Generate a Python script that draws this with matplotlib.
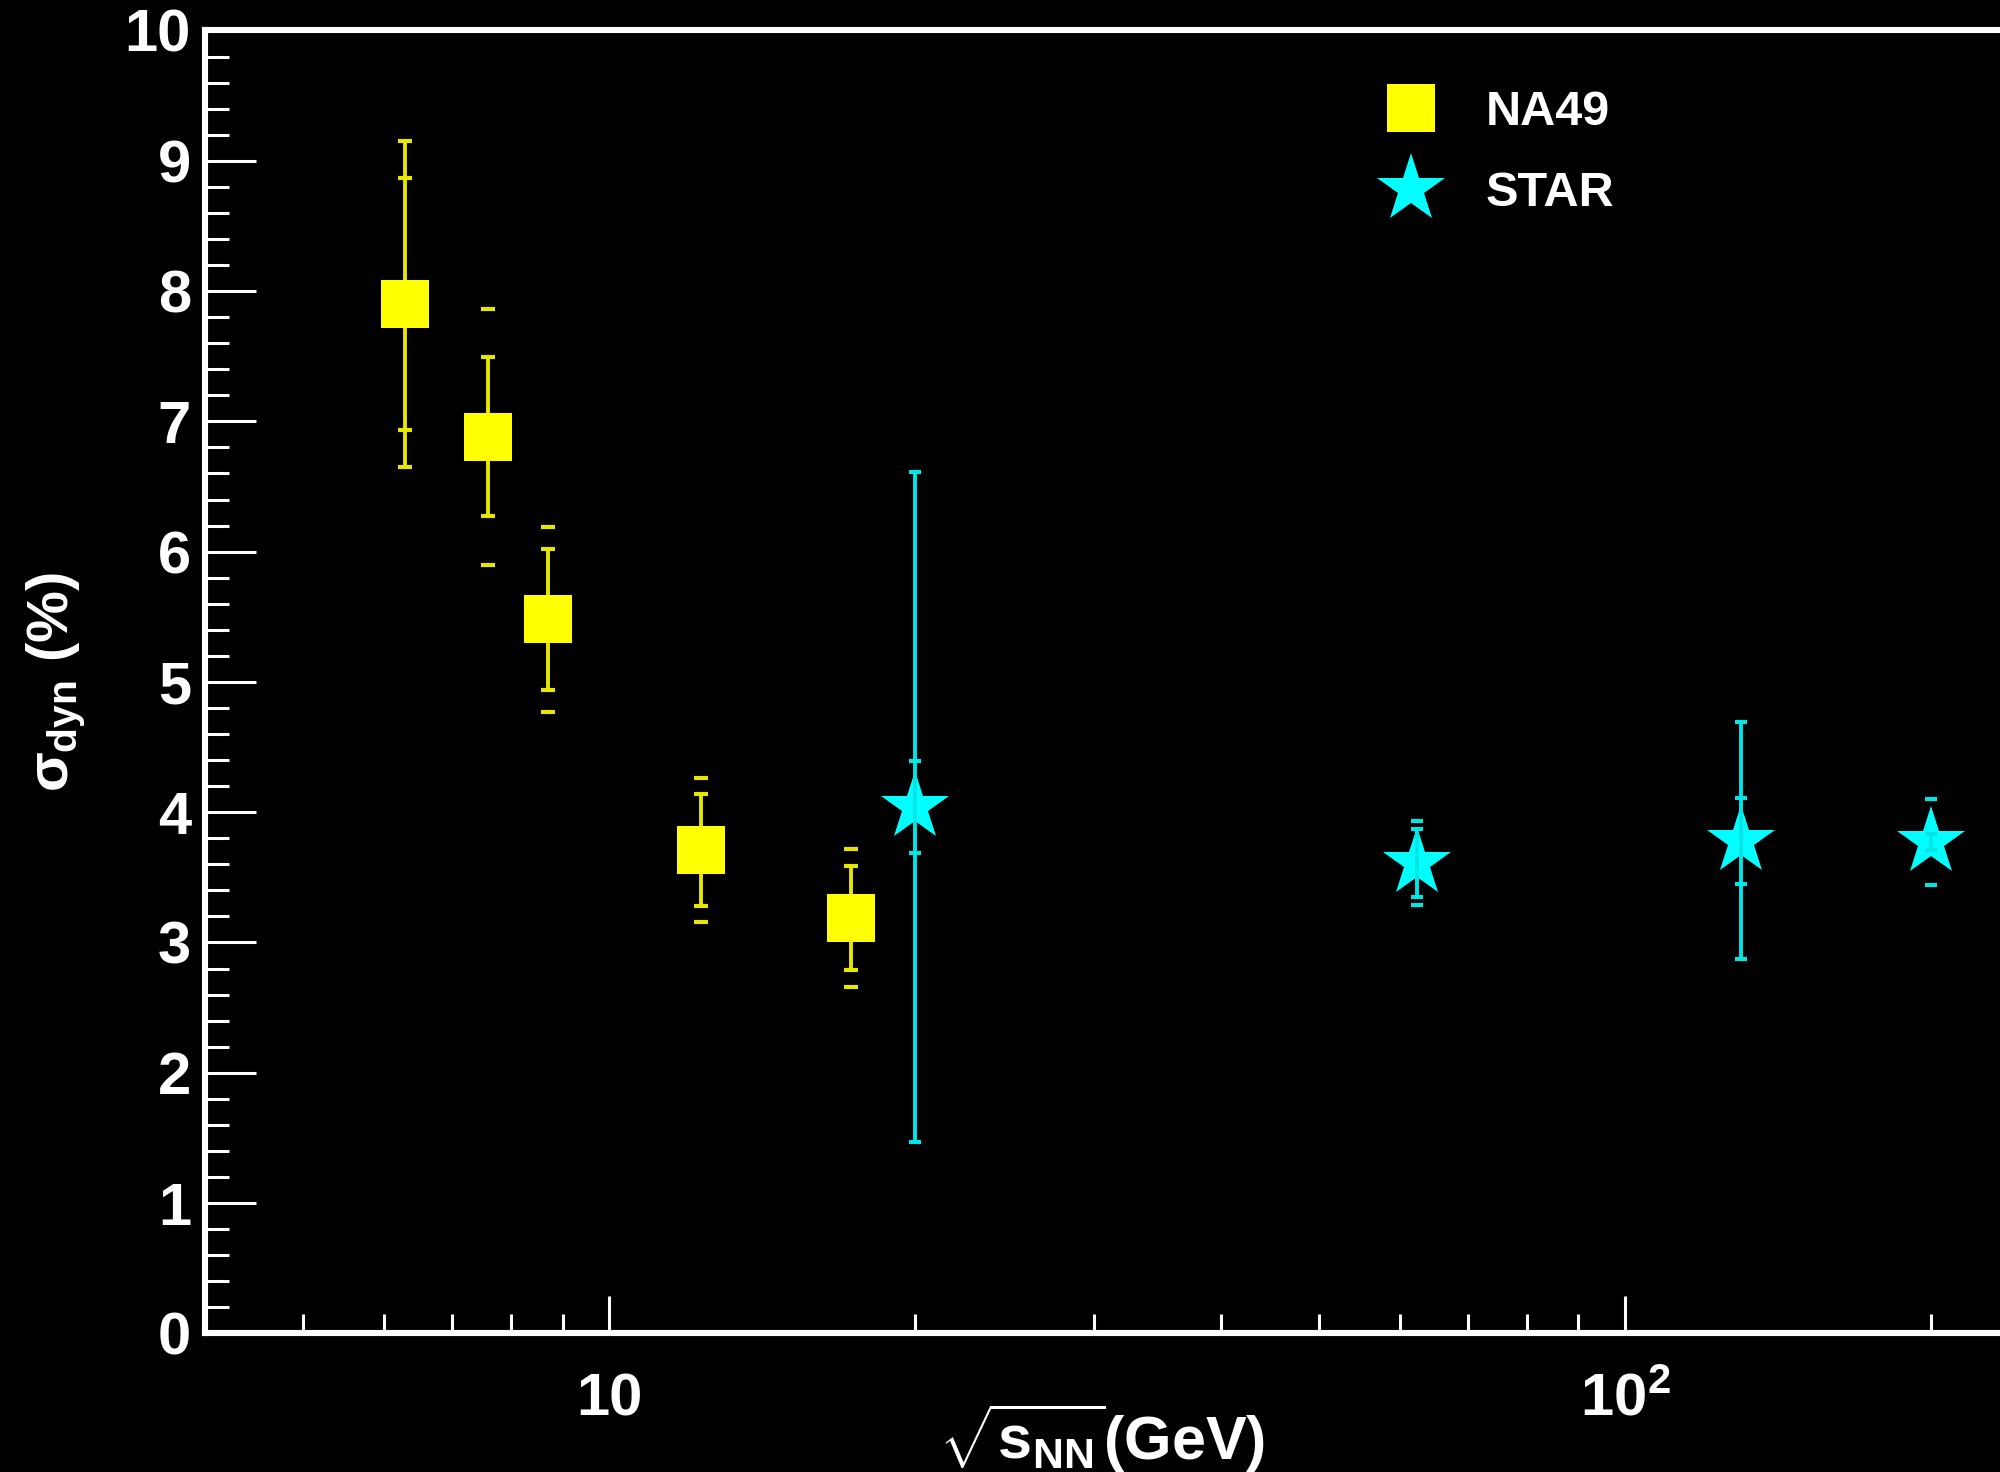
import numpy as np
import matplotlib
matplotlib.use('Agg')
import matplotlib.pyplot as plt
from matplotlib.lines import Line2D
from matplotlib.ticker import FixedLocator, LogLocator, MultipleLocator, NullFormatter

# NA49 points
na49_energy = [6.3, 7.6, 8.7, 12.3, 17.3]
na49_sigma = [7.90, 6.88, 5.48, 3.71, 3.19]
na49_stat = [1.25, 0.61, 0.54, 0.43, 0.40]
na49_sys = [0.97, 0.98, 0.71, 0.55, 0.53]

# STAR points
star_energy = [20.0, 62.4, 130.0, 200.0]
star_sigma = [4.04, 3.61, 3.78, 3.77]
star_stat = [2.57, 0.26, 0.91, 0.06]
star_sys = [0.35, 0.32, 0.33, 0.33]

xtick_vals = [10, 100]
xtick_labels = ['10', r'$\mathregular{10^{2}}$']

plt.rcParams['font.family'] = ['Liberation Sans', 'DejaVu Sans']
plt.rcParams['font.weight'] = 'bold'
plt.rcParams['mathtext.fontset'] = 'custom'
plt.rcParams['mathtext.rm'] = 'Liberation Sans:bold'
plt.rcParams['mathtext.it'] = 'Liberation Sans:bold'
plt.rcParams['mathtext.bf'] = 'Liberation Sans:bold'
plt.rcParams['mathtext.sf'] = 'Liberation Sans:bold'

fig = plt.figure(figsize=(10, 7.36), dpi=200, facecolor='black')
ax = fig.add_axes([0.1025, 0.0942, 0.8975, 0.8851])
ax.set_facecolor('black')

yellow = '#ffff00'
yellow_bar = '#e6e600'
cyan = '#00ffff'
cyan_bar = '#00e6e6'

# systematic errors: caps only
ax.errorbar(na49_energy, na49_sigma, yerr=na49_sys, fmt='none', ecolor=yellow_bar,
            elinewidth=0, capsize=2.4, capthick=1.5, zorder=2)
ax.errorbar(star_energy, star_sigma, yerr=star_sys, fmt='none', ecolor=cyan_bar,
            elinewidth=0, capsize=2.2, capthick=1.5, zorder=2)

# markers
ax.plot(na49_energy, na49_sigma, 's', color=yellow, ms=17.3, mew=0, zorder=3)
ax.plot(star_energy, star_sigma, '*', color=cyan, ms=26, mew=0, zorder=3)

# statistical errors: line + caps
ax.errorbar(na49_energy, na49_sigma, yerr=na49_stat, fmt='none', ecolor=yellow_bar,
            elinewidth=1.4, capsize=2.4, capthick=1.5, zorder=2)
ax.errorbar(star_energy, star_sigma, yerr=star_stat, fmt='none', ecolor=cyan_bar,
            elinewidth=1.4, capsize=2.2, capthick=1.5, zorder=4)

ax.set_xscale('log')
ax.set_xlim(4, 234)
ax.set_ylim(0, 10)

ax.xaxis.set_major_locator(FixedLocator(xtick_vals))
ax.set_xticklabels(xtick_labels)
ax.xaxis.set_minor_locator(LogLocator(base=10, subs=np.arange(2, 10)))
ax.xaxis.set_minor_formatter(NullFormatter())
ax.yaxis.set_major_locator(MultipleLocator(1))
ax.yaxis.set_minor_locator(MultipleLocator(0.2))

for s in ['left', 'bottom', 'top']:
    ax.spines[s].set_color('white')
    ax.spines[s].set_linewidth(2.2)
ax.spines['right'].set_visible(False)

ax.tick_params(axis='x', which='major', direction='in', length=13.3, width=1.1,
               color='white', labelcolor='white', labelsize=21.5, pad=14, top=False)
ax.tick_params(axis='x', which='minor', direction='in', length=6.8, width=1.1,
               color='white', top=False)
ax.tick_params(axis='y', which='major', direction='in', length=18.4, width=1.1,
               color='white', labelcolor='white', labelsize=21.5, pad=5, right=False)
ax.tick_params(axis='y', which='minor', direction='in', length=8.6, width=1.1,
               color='white', right=False)

ax.set_ylabel(r'$\sigma_{\rm dyn}$ (%)', color='white', fontsize=21, fontweight='bold')
ax.yaxis.set_label_coords(-0.0657, 0.5)
ax.set_xlabel(r'$\sqrt{\rm s_{NN}}$(GeV)', color='white', fontsize=22, fontweight='bold',
              va='top')
ax.xaxis.set_label_coords(0.5, -0.053)

handles = [Line2D([], [], ls='none', marker='s', color=yellow, ms=17.3, mew=0),
           Line2D([], [], ls='none', marker='*', color=cyan, ms=26, mew=0)]
leg = ax.legend(handles, ['NA49', 'STAR'], loc='upper left',
                bbox_to_anchor=(1362 / 2000, 1 - 90 / 1472), bbox_transform=fig.transFigure,
                frameon=False, fontsize=17.5, handlelength=2.0, handletextpad=0.55,
                labelspacing=0.75, borderpad=0, borderaxespad=0,
                prop={'weight': 'bold', 'size': 17.5})
for t in leg.get_texts():
    t.set_color('white')

fig.savefig('out.png', dpi=200, facecolor='black')
